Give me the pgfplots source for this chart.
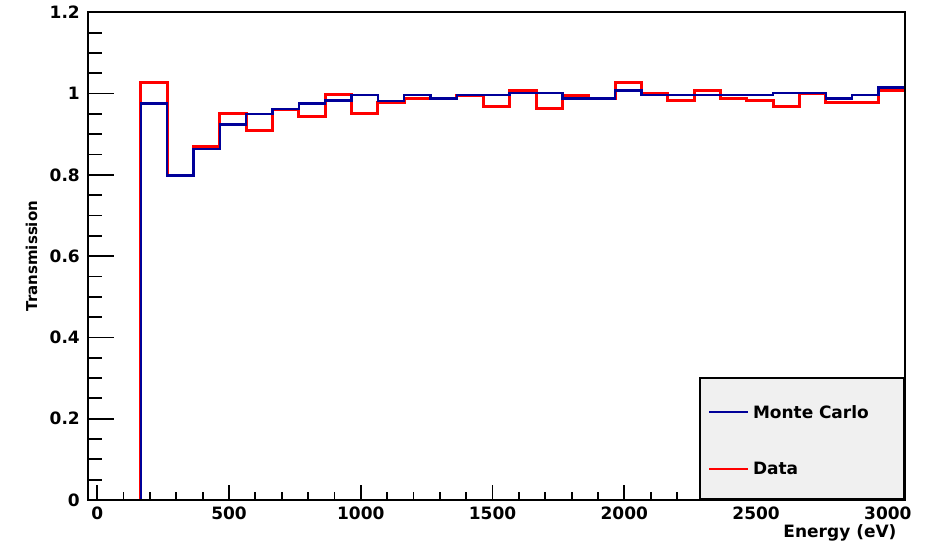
\documentclass[border=0pt]{standalone}
\usepackage{pgfplots}
\pgfplotsset{compat=1.18}
\usepackage{pgfplotstable}
\usepackage{fontspec}
\setmainfont{DejaVu Sans}

\definecolor{mcblue}{RGB}{0,0,153}
\definecolor{datared}{RGB}{255,0,0}
\definecolor{legbg}{RGB}{240,240,240}

% bin left edges (width 100 eV), Monte Carlo and data transmission
\pgfplotstableread{
edge  mc     data
-35   0      0
65    0      0
165   0.976  1.028
265   0.798  0.798
365   0.864  0.870
465   0.924  0.950
565   0.950  0.910
665   0.962  0.962
765   0.976  0.943
865   0.983  0.997
965   0.996  0.950
1065  0.982  0.977
1165  0.997  0.989
1265  0.988  0.988
1365  0.996  0.996
1465  0.996  0.969
1565  1.002  1.008
1665  1.001  0.963
1765  0.988  0.996
1865  0.988  0.988
1965  1.008  1.028
2065  0.996  1.001
2165  0.996  0.983
2265  0.996  1.008
2365  0.996  0.988
2465  0.996  0.983
2565  1.001  0.969
2665  1.001  1.001
2765  0.988  0.977
2865  0.996  0.977
2965  1.015  1.008
3065  1.015  1.008
}\trans

\pgfplotsset{
  rootframe/.style={
    width=817pt, height=487.7pt, scale only axis,
    xmin=-35, xmax=3065, ymin=0, ymax=1.2,
    axis on top,
    axis line style={line width=2pt},
    tick align=inside, xtick pos=bottom, ytick pos=left,
    tick style={black, line width=1.8pt},
    /pgf/number format/assume math mode=true,
    /pgf/number format/1000 sep={},
    tick label style={font=\fontsize{17}{17}\selectfont\bfseries, inner sep=0pt},
  }
}

\begin{document}
\begin{tikzpicture}
% y axis: long ROOT ticks
\begin{axis}[rootframe,
    xtick=\empty,
    ytick={0,0.2,0.4,0.6,0.8,1,1.2},
    minor y tick num=3,
    major tick length=26pt, minor tick length=14pt,
    yticklabel style={anchor=east, xshift=-8pt},
    ylabel={Transmission},
    ylabel style={at={(axis description cs:-0.0692,0.5)}, anchor=center,
      font=\fontsize{15}{15}\selectfont\bfseries}]
\end{axis}
% x axis, histograms, legend
\begin{axis}[rootframe, name=ax,
    ytick=\empty,
    xtick={0,500,1000,1500,2000,2500,3000},
    minor x tick num=4,
    major tick length=15pt, minor tick length=8pt,
    xticklabel style={anchor=north, yshift=-7pt},
    xlabel={Energy (eV)},
    xlabel style={at={(axis description cs:0.9939,-0.0677)}, anchor=east,
      font=\fontsize{17}{17}\selectfont\bfseries},
    legend cell align=left,
    legend style={at={(1,0)}, anchor=south east, fill=legbg, draw=black,
      line width=2pt, inner xsep=8pt, inner ysep=24pt,
      row sep=41.5pt, column sep=4pt,
      font=\fontsize{17}{17}\selectfont\bfseries,
      nodes={inner sep=0pt, text width=143pt, align=left, anchor=base west,
        text height=15.5pt, text depth=0pt}}]
\addlegendimage{legend image code/.code={%
  \path[draw=mcblue, line width=1.8pt] (0pt,6.2pt) -- (39pt,6.2pt);}}
\addlegendimage{legend image code/.code={%
  \path[draw=datared, line width=1.8pt] (0pt,6.2pt) -- (39pt,6.2pt);}}
\addplot[const plot, datared, line width=3pt, forget plot]
  table[x=edge, y=data] {\trans};
\addplot[const plot, mcblue, line width=2.4pt, forget plot]
  table[x=edge, y=mc] {\trans};
\legend{Monte Carlo, Data}
\end{axis}
\pgfresetboundingbox
\path[use as bounding box] ([shift={(-88pt,-49pt)}]ax.south west) rectangle ++(927pt,549pt);
\end{tikzpicture}
\end{document}
